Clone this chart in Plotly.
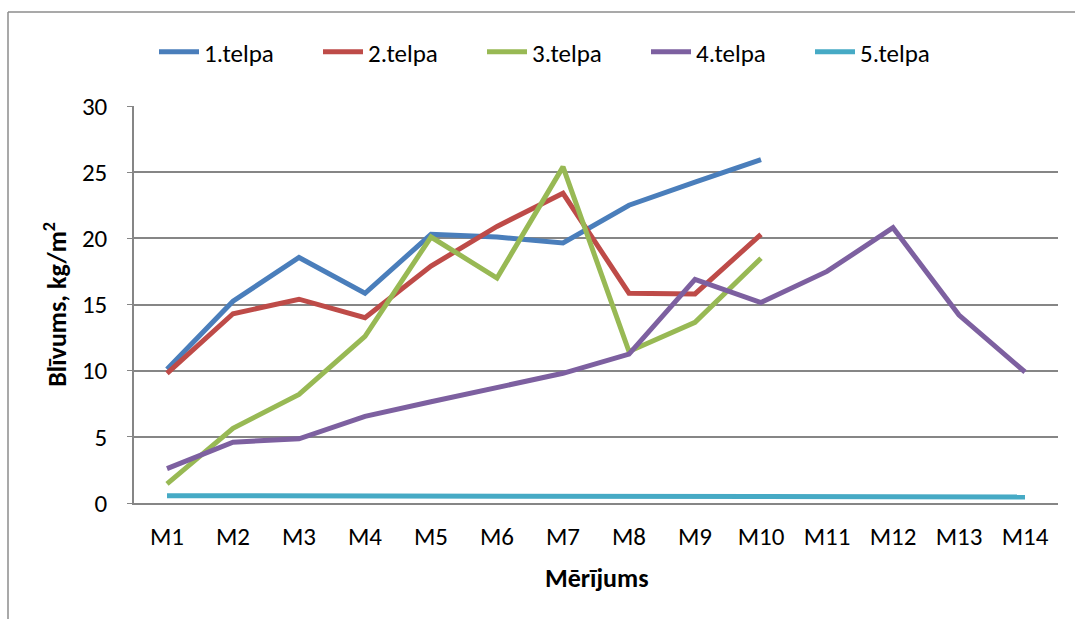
import plotly.graph_objects as go

# Measurement labels and density values per room
measurements = ["M1", "M2", "M3", "M4", "M5", "M6", "M7", "M8", "M9", "M10", "M11", "M12", "M13", "M14"]
telpa_1 = [10.1, 15.25, 18.55, 15.85, 20.3, 20.1, 19.65, 22.5, 24.25, 25.95]
telpa_2 = [9.8, 14.3, 15.4, 14.0, 17.9, 20.9, 23.4, 15.85, 15.8, 20.3]
telpa_3 = [1.45, 5.65, 8.2, 12.6, 20.1, 17.0, 25.4, 11.45, 13.65, 18.5]
telpa_4 = [2.6, 4.6, 4.85, 6.55, 7.65, 8.7, 9.8, 11.25, 16.9, 15.15, 17.5, 20.8, 14.2, 9.9]
telpa_5 = [0.55, 0.54, 0.54, 0.53, 0.53, 0.53, 0.53, 0.53, 0.52, 0.48, 0.47, 0.47, 0.46, 0.46]

series = [
    ("1.telpa", telpa_1, "#4A7EBB"),
    ("2.telpa", telpa_2, "#BE4B48"),
    ("3.telpa", telpa_3, "#98B954"),
    ("4.telpa", telpa_4, "#7D60A0"),
    ("5.telpa", telpa_5, "#46AAC5"),
]

FONT = "Carlito, Lato, Open Sans, sans-serif"

fig = go.Figure()
for name, vals, color in series:
    fig.add_trace(go.Scatter(
        x=measurements[:len(vals)], y=vals, name=name, mode="lines",
        line=dict(color=color, width=5, shape="linear"),
    ))

W, H = 1075, 619
L, R, T, B = 134, 17, 106, 115.5
pw, ph = W - L - R, H - T - B

def px_x(p):
    return (p - L) / pw

def px_y(p):
    return (H - B - p) / ph

fig.update_layout(
    width=W, height=H,
    margin=dict(l=L, r=R, t=T, b=B),
    paper_bgcolor="white", plot_bgcolor="white",
    font=dict(family=FONT, color="#000000", size=25),
    showlegend=True,
    legend=dict(
        orientation="h", xref="container", yref="container",
        x=154 / W, xanchor="left", y=1 - 52 / H, yanchor="middle",
        font=dict(size=25), entrywidth=109, entrywidthmode="pixels",
        itemwidth=40, bgcolor="rgba(0,0,0,0)",
    ),
    xaxis=dict(
        type="category", categoryorder="array", categoryarray=measurements,
        range=[-0.5, len(measurements) - 0.5],
        showline=True, linecolor="#868686", linewidth=1.5,
        showgrid=False, ticks="", tickfont=dict(size=25),
        ticklabelstandoff=10,
    ),
    yaxis=dict(
        range=[0, 30], dtick=5, tick0=0,
        showline=True, linecolor="#868686", linewidth=1.5,
        showgrid=True, gridcolor="#868686", gridwidth=1.5,
        ticks="outside", ticklen=5, tickcolor="#868686",
        tickfont=dict(size=25), zeroline=False,
        ticklabelstandoff=15,
    ),
    annotations=[
        dict(text="<b>Blīvums, kg/m<sup>2</sup></b>", xref="paper", yref="paper",
             x=px_x(56), y=px_y(305), textangle=-90, showarrow=False,
             xanchor="center", yanchor="middle", font=dict(size=26)),
        dict(text="<b>Mērījums</b>", xref="paper", yref="paper",
             x=px_x(597), y=px_y(579), showarrow=False,
             xanchor="center", yanchor="middle", font=dict(size=26)),
    ],
    shapes=[
        dict(type="line", xref="paper", yref="paper",
             x0=px_x(8), x1=px_x(1080), y0=px_y(12), y1=px_y(12),
             line=dict(color="#8C8C8C", width=1.5), layer="below"),
        dict(type="line", xref="paper", yref="paper",
             x0=px_x(8), x1=px_x(8), y0=px_y(12), y1=px_y(625),
             line=dict(color="#8C8C8C", width=1.5), layer="below"),
    ],
)

fig.write_html("out.html")
